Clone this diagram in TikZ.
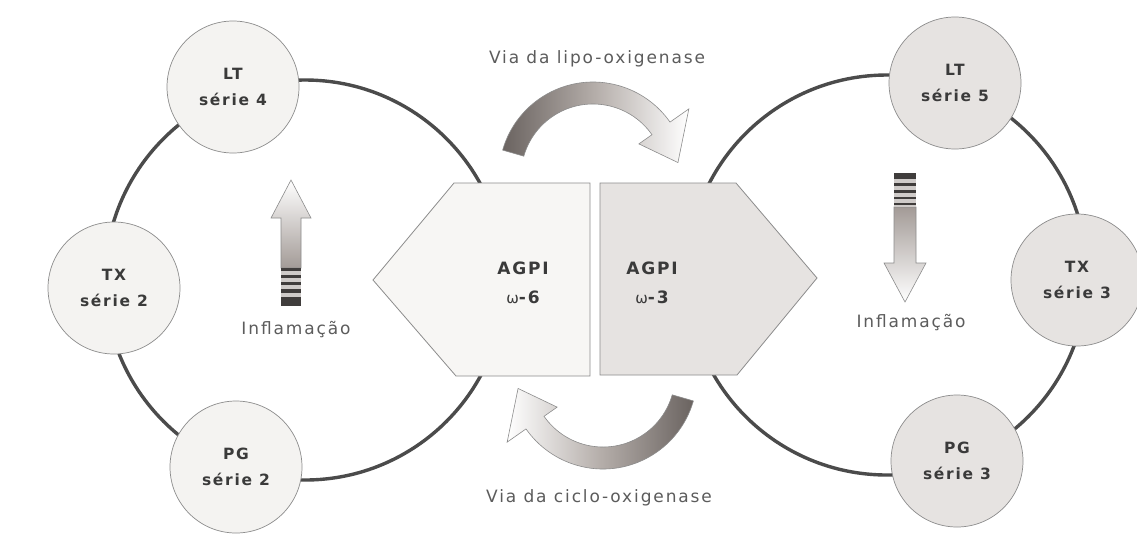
\documentclass[tikz,border=0pt]{standalone}
\usepackage{fontspec}
\setmainfont{DejaVu Sans}[LetterSpace=11]
\definecolor{ringc}{HTML}{4B4B4B}
\definecolor{edgec}{HTML}{8C8C8C}
\definecolor{lfill}{HTML}{F4F3F1}
\definecolor{rfill}{HTML}{E6E3E1}
\definecolor{lpent}{HTML}{F7F6F4}
\definecolor{rpent}{HTML}{E6E3E1}
\definecolor{adark}{HTML}{6A6360}
\definecolor{amid}{HTML}{B5AEAA}
\definecolor{shaftdark}{HTML}{A39B97}
\definecolor{barc}{HTML}{403D3C}
\definecolor{barbg}{HTML}{CFCBC9}
\definecolor{txtc}{HTML}{3A3A3A}
\definecolor{ltxt}{HTML}{5C5C5C}
\begin{document}
\begin{tikzpicture}[x=1pt,y=-1pt,
  ringline/.style={draw=ringc, line width=3.4pt},
  lcirc/.style={circle, draw=edgec, line width=0.7pt, fill=lfill, minimum size=132pt, inner sep=0pt, align=center, text=txtc, font=\bfseries\fontsize{15.5}{26}\selectfont},
  rcirc/.style={lcirc, fill=rfill},
  pentleft/.style={draw=edgec, line width=0.8pt, fill=lpent},
  pentright/.style={draw=edgec, line width=0.8pt, fill=rpent},
  agpi/.style={align=center, text=txtc, inner sep=0pt, font=\bfseries\fontsize{17}{29}\selectfont},
  via/.style={text=ltxt, inner sep=0pt, font=\fontsize{17}{20}\selectfont},
  curvearrow/.style={draw=edgec, line width=0.6pt},
  varrow/.style={draw=edgec, line width=0.6pt},
  bar/.style={fill=barc}
]
\useasboundingbox (0,0) rectangle (1137,542);
\fill[white] (0,0) rectangle (1137,542);

% rings
\draw[ringline] (305,280) circle[radius=200];
\draw[ringline] (887,275) circle[radius=200];

% pentagons
\filldraw[pentleft] (590,183) -- (454,183) -- (373,280) -- (456,376) -- (590,376) -- cycle;
\filldraw[pentright] (600,183) -- (736,183) -- (817,278) -- (737,375) -- (600,375) -- cycle;
\node[agpi] (w6) at (523,283) {AGPI\\{\mdseries\fontsize{15}{29}\selectfont ω}-6};
\node[agpi] (w3) at (652,283) {AGPI\\{\mdseries\fontsize{15}{29}\selectfont ω}-3};

% circles
\node[lcirc] (lt4) at (233,87) {LT\\série 4};
\node[lcirc] (tx2) at (114,288) {TX\\série 2};
\node[lcirc] (pg2) at (236,467) {PG\\série 2};
\node[rcirc] (lt5) at (955,83) {LT\\série 5};
\node[rcirc] (tx3) at (1077,280) {TX\\série 3};
\node[rcirc] (pg3) at (957,461) {PG\\série 3};

% curved arrows
\begin{scope}[shift={(593,176)}]
\shadedraw[curvearrow, left color=adark, right color=white, middle color=amid]
  (196:94) arc[start angle=196, end angle=325, radius=94]
  -- (325:117) -- (351:86) -- (325:56) -- (325:72)
  arc[start angle=325, end angle=196, radius=72] -- cycle;
\end{scope}
\begin{scope}[shift={(603,375)}]
\shadedraw[curvearrow, left color=white, right color=adark, middle color=amid]
  (16:94) arc[start angle=16, end angle=145, radius=94]
  -- (145:117) -- (171:86) -- (145:56) -- (145:72)
  arc[start angle=145, end angle=16, radius=72] -- cycle;
\end{scope}

\node[via] (lipo) at (597,59) {Via da lipo-oxigenase};
\node[via] (ciclo) at (599,498) {Via da ciclo-oxigenase};

% left up arrow
\shadedraw[varrow, top color=white, bottom color=shaftdark]
  (291,180) -- (311,218) -- (301,218) -- (301,268) -- (281,268) -- (281,218) -- (271,218) -- cycle;
\fill[barbg] (281,268) rectangle (301,306);
\fill[bar] (281,268) rectangle (301,270.5);
\fill[bar] (281,275) rectangle (301,277.5);
\fill[bar] (281,282) rectangle (301,285);
\fill[bar] (281,289) rectangle (301,292.5);
\fill[bar] (281,297) rectangle (301,306);
\node[via] (infl6) at (296,330) {Inflamação};

% right down arrow
\shadedraw[varrow, top color=shaftdark, bottom color=white]
  (894,207) -- (916,207) -- (916,263) -- (926,263) -- (905,302) -- (884,263) -- (894,263) -- cycle;
\fill[barbg] (894,173) rectangle (916,207);
\fill[bar] (894,173) rectangle (916,179);
\fill[bar] (894,183) rectangle (916,186);
\fill[bar] (894,190) rectangle (916,192.5);
\fill[bar] (894,196.5) rectangle (916,198.5);
\fill[bar] (894,202.5) rectangle (916,204.5);
\node[via] (infl3) at (911,323) {Inflamação};
\end{tikzpicture}
\end{document}
